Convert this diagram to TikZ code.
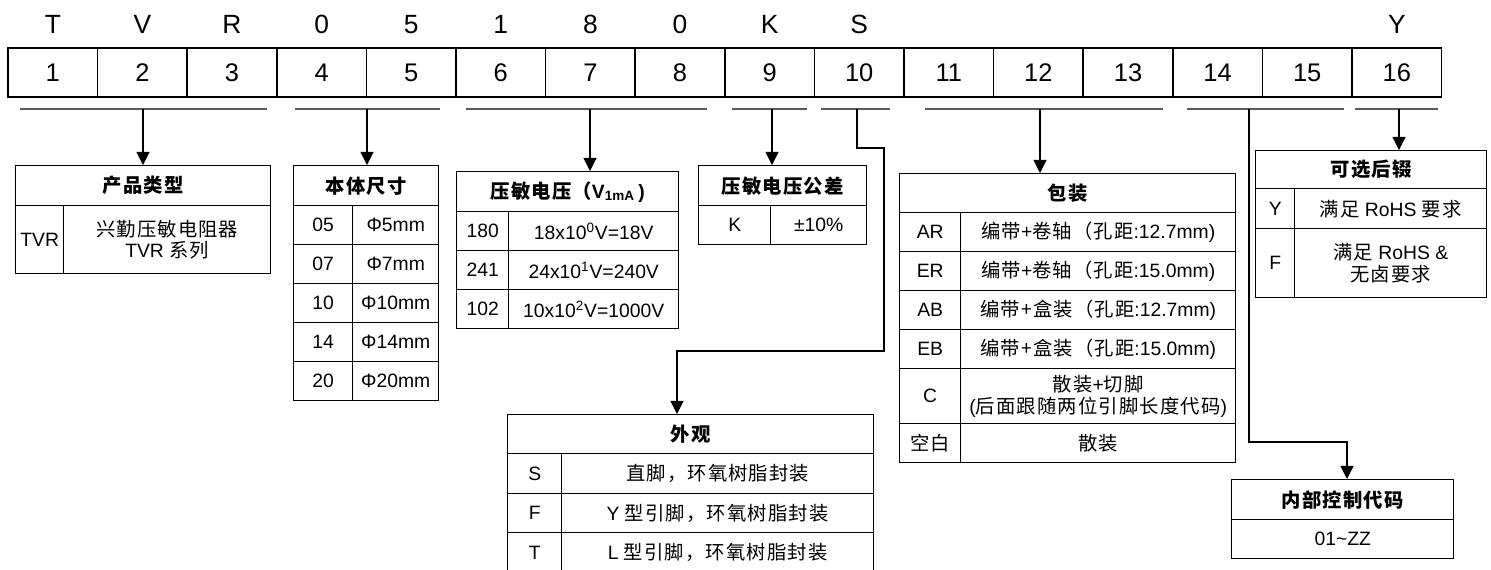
\documentclass[tikz,border=0pt]{standalone}
\usepackage{fontspec}
\setmainfont{Liberation Sans}
\newfontfamily\cjk[LetterSpace=6]{Noto Sans CJK SC}
\usetikzlibrary{arrows.meta, positioning}
\tikzset{>={Triangle[length=7.5pt,width=7.5pt]}}
\newcommand\zh[1]{{\cjk #1}}
\tikzset{
  cell/.style 2 args={draw, line width=.8pt, inner sep=0pt, anchor=north west,
    minimum width=#1*0.02cm, minimum height=#2*0.02cm, align=center,
    font=\fontsize{11}{12.5}\selectfont},
  hd/.style 2 args={cell={#1}{#2}, font=\fontsize{11}{12.5}\selectfont\bfseries},
  numcell/.style={draw, line width=1pt, minimum width=1.792cm, minimum height=0.98cm,
    inner sep=0pt, font=\fontsize{14.5}{16}\selectfont},
  letter/.style={anchor=base, font=\fontsize{15}{17}\selectfont},
  uline/.style={draw=black!65, line width=1.2pt},
  link/.style={->, line width=.6pt},
}

\begin{document}
\begin{tikzpicture}[x=0.02cm, y=-0.02cm]
    \useasboundingbox (0,0) rectangle (1491,569);
    % code positions
    \foreach \i in {1,...,16}
        \node[numcell] (c\i) at ({8+(\i-0.5)*89.6},72.5) {\i};
    \foreach \l/\i in {T/1,V/2,R/3,0/4,5/5,1/6,8/7,0/8,K/9,S/10,Y/16}
        \node[letter] (l\i) at (c\i.center |- 0,33) {\l};
    \foreach \a/\b in {20/267,295/440,466/707,732/807,821/890,925/1163,1187/1344,1355/1438}
        \draw[uline] (\a,109) -- (\b,109);
    \coordinate (u1) at (143,109);
    \coordinate (u2) at (367,109);
    \coordinate (u3) at (590,109);
    \coordinate (u4) at (772,109);
    \coordinate (u5) at (857,109);
    \coordinate (u6) at (1040,109);
    \coordinate (u7) at (1249,109);
    \coordinate (u8) at (1399,109);
    \coordinate (k5a) at (884,148);
    \coordinate (k5b) at (677,351);
    \coordinate (k7) at (1347,442);

    % product type
    \node[hd={255}{40}] (typehd) at (15,165) {\zh{产品类型}};
    \node[cell={48}{68}] (typecode) at (15,205) {TVR};
    \node[cell={207}{68}] (typetext) at (63,205) {\zh{兴勤压敏电阻器}\\TVR \zh{系列}};

    % body size
    \node[hd={145}{40}] (sizehd) at (293,165) {\zh{本体尺寸}};
    \foreach \code/\dia [count=\i from 0] in {05/5,07/7,10/10,14/14,20/20} {
        \node[cell={59}{39}] (size\code) at (293,{205+\i*39}) {\code};
        \node[cell={86}{39}] (sizev\code) at (352,{205+\i*39}) {Φ\dia mm};
    }

    % varistor voltage
    \node[hd={222}{40}] (volthd) at (456,171) {\zh{压敏电压（}V\textsubscript{1mA}\,)};
    \foreach \code/\val [count=\i from 0] in {180/{18x10\textsuperscript{0}V=18V},241/{24x10\textsuperscript{1}V=240V},102/{10x10\textsuperscript{2}V=1000V}} {
        \node[cell={52}{39}] (volt\code) at (456,{211+\i*39}) {\code};
        \node[cell={170}{39}] (voltv\code) at (508,{211+\i*39}) {\val};
    }

    % tolerance
    \node[hd={168}{40}] (tolhd) at (698,165) {\zh{压敏电压公差}};
    \node[cell={72}{39}] (tolcode) at (698,205) {K};
    \node[cell={96}{39}] (tolval) at (770,205) {±10\%};

    % appearance
    \node[hd={366}{39}] (apphd) at (507,414) {\zh{外观}};
    \foreach \code/\txt [count=\i from 0] in {S/{\zh{直脚，环氧树脂封装}},F/{Y \zh{型引脚，环氧树脂封装}},T/{L \zh{型引脚，环氧树脂封装}}} {
        \node[cell={54}{39.5}] (app\code) at (507,{453+\i*39.5}) {\code};
        \node[cell={312}{39.5}] (appv\code) at (561,{453+\i*39.5}) {\txt};
    }

    % packing
    \node[hd={336}{39}] (packhd) at (899,173) {\zh{包装}};
    \foreach \code/\txt [count=\i from 0] in {AR/{\zh{编带}+\zh{卷轴（孔距}:12.7mm)},ER/{\zh{编带}+\zh{卷轴（孔距}:15.0mm)},AB/{\zh{编带+盒装（孔距}:12.7mm)},EB/{\zh{编带+盒装（孔距}:15.0mm)}} {
        \node[cell={61}{39}] (pack\code) at (899,{212+\i*39}) {\code};
        \node[cell={275}{39}] (packv\code) at (960,{212+\i*39}) {\txt};
    }
    \node[cell={61}{55}] (packC) at (899,368) {C};
    \node[cell={275}{55}] (packvC) at (960,368) {\zh{散装}+\zh{切脚}\\(\zh{后面跟随两位引脚长度代码})};
    \node[cell={61}{39}] (packnone) at (899,423) {\zh{空白}};
    \node[cell={275}{39}] (packvnone) at (960,423) {\zh{散装}};

    % suffix
    \node[hd={231}{38}] (sufhd) at (1255,150) {\zh{可选后辍}};
    \node[cell={39}{40}] (sufY) at (1255,188) {Y};
    \node[cell={192}{40}] (sufvY) at (1294,188) {\zh{满足} RoHS \zh{要求}};
    \node[cell={39}{69}] (sufF) at (1255,228) {F};
    \node[cell={192}{69}] (sufvF) at (1294,228) {\zh{满足} RoHS \&\\\zh{无卤要求}};

    % internal code
    \node[hd={222}{40}] (codehd) at (1231,479) {\zh{内部控制代码}};
    \node[cell={222}{39}] (codeval) at (1231,519) {01\textasciitilde ZZ};

    \draw[link] (u1) -- (u1 |- typehd.north);
    \draw[link] (u2) -- (u2 |- sizehd.north);
    \draw[link] (u3) -- (u3 |- volthd.north);
    \draw[link] (u4) -- (u4 |- tolhd.north);
    \draw[link] (u5) |- (k5a) |- (k5b) -- (k5b |- apphd.north);
    \draw[link] (u6) -- (u6 |- packhd.north);
    \draw[link] (u7) |- (k7) -- (k7 |- codehd.north);
    \draw[link] (u8) -- (u8 |- sufhd.north);
\end{tikzpicture}
\end{document}
